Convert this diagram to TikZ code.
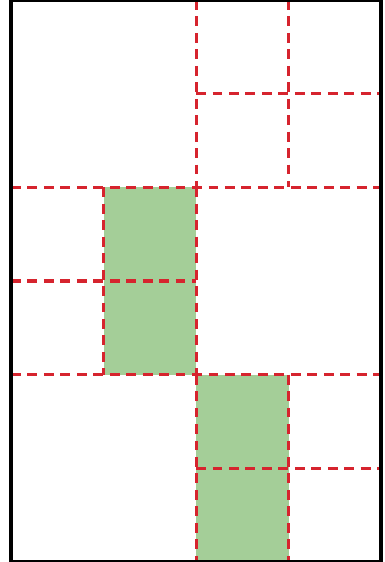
\documentclass[tikz,border=0pt]{standalone}
\usepackage{xcolor}

\definecolor{splitred}{RGB}{214,36,46}
\definecolor{leafgreen}{RGB}{164,206,152}

\begin{document}
\begin{tikzpicture}[
    x=0.988cm, y=1cm,
    frame/.style={draw=black, line width=1.1pt},
    leaf/.style={fill=leafgreen, draw=none},
    split/.style={draw=splitred, line width=0.95pt, dash pattern=on 3pt off 2pt}
]
\useasboundingbox (-0.119,0) rectangle (4.037,6);
% filled cells
\fill[leaf] (1,2) rectangle (2,4);
\fill[leaf] (2,0) rectangle (3,2);
% top part
\draw[split] (2,6) -- (2,4);
\draw[split] (3,6) -- (3,4);
\draw[split] (2,5) -- (4,5);
\draw[split] (0,4) -- (4,4);
% middle part
\draw[split] (1,4) -- (1,2);
\draw[split] (2,4) -- (2,2);
\draw[split] (0,3) -- (2,3);
\draw[split] (0,2) -- (4,2);
% bottom part
\draw[split] (2,2) -- (2,0);
\draw[split] (3,2) -- (3,0);
\draw[split] (2,1) -- (4,1);
% outer frame
\draw[frame] (0,0) rectangle (4,6);
\end{tikzpicture}
\end{document}
